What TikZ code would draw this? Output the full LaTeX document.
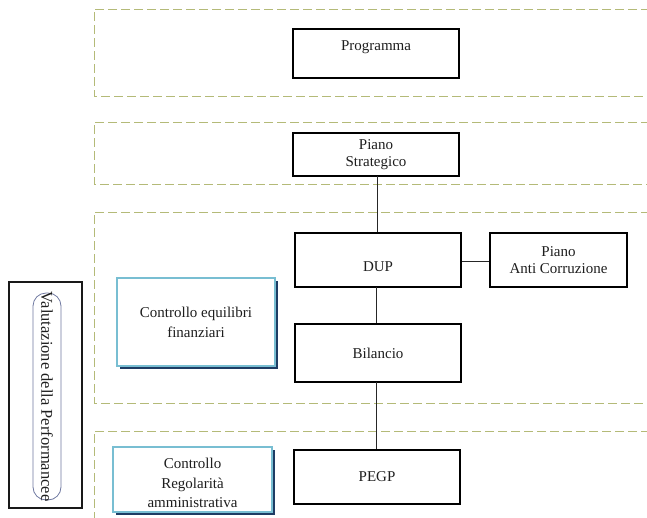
\documentclass[tikz,border=0pt]{standalone}
\usepackage{fontspec}
\setmainfont{Liberation Serif}
\definecolor{bandcol}{RGB}{180,186,120}
\definecolor{txtcol}{RGB}{30,30,30}
\definecolor{ctrlborder}{RGB}{120,190,210}
\definecolor{ctrlshadow}{RGB}{30,60,100}
\definecolor{pillborder}{RGB}{110,120,160}
\tikzset{
  band/.style={draw=bandcol, line width=0.9pt, dash pattern=on 9pt off 4pt},
  blackbox/.style={draw=black, line width=1.8pt, fill=white, text=txtcol, align=center,
    font=\fontsize{15}{17}\selectfont, inner sep=0pt},
  ctrlbox/.style={draw=ctrlborder, line width=1.2pt, fill=white, text=txtcol, align=center,
    font=\fontsize{15}{20}\selectfont, inner sep=0pt},
  ctrlshadowbox/.style={fill=ctrlshadow, draw=none, inner sep=0pt},
  conn/.style={draw=black!85, line width=0.9pt}
}
\begin{document}
\begin{tikzpicture}[x=1pt,y=-1pt]
\useasboundingbox (0,0) rectangle (647,517);
% dashed bands (open on the right)
\draw[band] (650,9) -- (94,9) -- (94,96) -- (650,96);
\draw[band] (650,122) -- (94,122) -- (94,184) -- (650,184);
\draw[band] (650,212) -- (94,212) -- (94,403) -- (650,403);
\draw[band] (650,431) -- (94,431) -- (94,520);

% main boxes
\node[blackbox, minimum width=166pt, minimum height=49pt,
  label={[text=txtcol, font=\fontsize{15}{17}\selectfont, yshift=6pt]center:Programma}]
  (prog) at (376,53.5) {};
\node[blackbox, minimum width=166pt, minimum height=43pt] (ps) at (376,154.5) {Piano\\Strategico};
\node[blackbox, minimum width=166pt, minimum height=54pt,
  label={[text=txtcol, font=\fontsize{15}{17}\selectfont, yshift=-7pt]center:DUP}]
  (dup) at (378,260) {};
\node[blackbox, minimum width=137pt, minimum height=54pt] (pac) at (558.5,260) {Piano\\Anti Corruzione};
\node[blackbox, minimum width=166pt, minimum height=58pt] (bil) at (378,353) {Bilancio};
\node[blackbox, minimum width=166pt, minimum height=54pt] (pegp) at (377,477) {PEGP};

% connectors
\draw[conn] (377,176) coordinate (psb) -- (psb |- dup.north);
\draw[conn] (dup.east |- pac.west) ++(0,1) coordinate (dupe) -- (pac.west |- dupe);
\draw[conn] (376,287) coordinate (dups) -- (dups |- bil.north);
\draw[conn] (376,382) coordinate (bils) -- (bils |- pegp.north);

% control boxes with shadow
\node[ctrlshadowbox, minimum width=158pt, minimum height=88pt] (ceqs) at (198.5,324.5) {};
\node[ctrlbox, minimum width=158pt, minimum height=88pt] (ceq) at (196,322) {Controllo equilibri\\finanziari};
\node[ctrlshadowbox, minimum width=159pt, minimum height=65pt] (cras) at (195,482) {};
\node[ctrlbox, minimum width=159pt, minimum height=65pt] (cra) at (192.5,479.5) {};
\node[text=txtcol, align=center, font=\fontsize{15}{19.5}\selectfont, inner sep=0pt] (crat) at (192.5,483) {Controllo\\Regolarità\\amministrativa};

% valutazione
\node[draw=black!90, line width=1.8pt, minimum width=73pt, minimum height=226pt, inner sep=0pt] (valbox) at (45.5,395) {};
\node[draw=pillborder, line width=0.8pt, rounded corners=13pt, minimum width=28pt, minimum height=207pt, inner sep=0pt] (pill) at (47,396.5) {};
\node[rotate=-90, text=txtcol, font=\fontsize{16.5}{18}\selectfont, inner sep=0pt] (valt) at (pill.center) {Valutazione della Performancee};
\end{tikzpicture}
\end{document}
